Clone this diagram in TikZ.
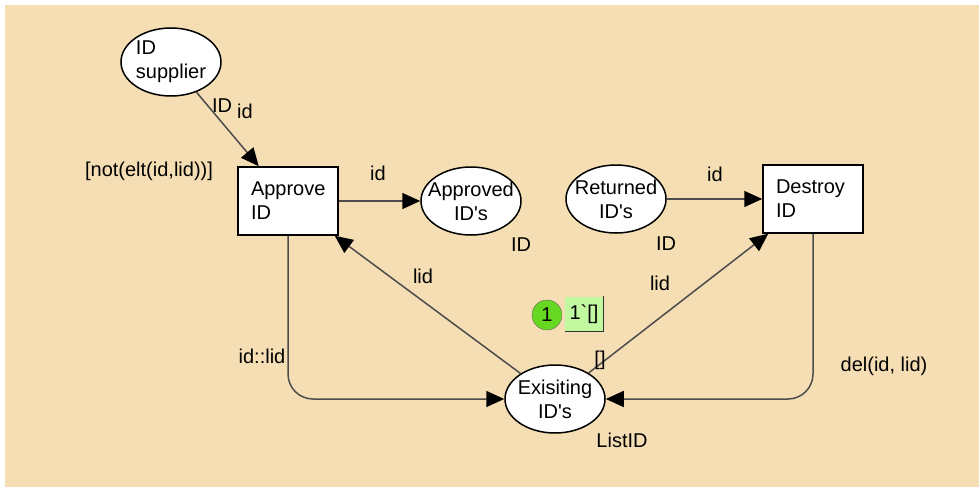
\documentclass[tikz,border=0pt]{standalone}
\usepackage{fontspec}
\setmainfont[Ligatures=TeXOff]{Liberation Sans}
\usetikzlibrary{shapes.geometric,arrows.meta}
\definecolor{canvas}{RGB}{245,222,179}
\definecolor{tokgreen}{RGB}{102,216,34}
\definecolor{tokbox}{RGB}{194,248,160}
\begin{document}
\begin{tikzpicture}
    [x=1pt,y=-1pt,font=\fontsize{20}{24}\selectfont,
     place/.style={ellipse,draw,line width=1.5pt,fill=white,minimum width=100pt,minimum height=68pt,inner xsep=-8pt,inner ysep=0pt,align=center},
     transition/.style={rectangle,draw,line width=1.5pt,fill=white,minimum width=100pt,minimum height=68pt,text width=74pt,inner xsep=13pt,align=left},
     arc/.style={draw=black!70,line width=1.5pt,-{Triangle[length=18pt,width=16pt,color=black]}},
     inscr/.style={anchor=base,inner sep=0pt}]
    \fill[white] (0,0) rectangle (979,487);
    \fill[canvas] (5,5) rectangle (979,487);
    \useasboundingbox (0,0) rectangle (979,487);
    % places and transitions
    \node[place,align=left] (supplier) at (171,62) {ID\\supplier};
    \node[transition] (approve) at (288,201) {Approve\\ID};
    \node[place] (approved) at (471,201) {Approved\\ID's};
    \node[place] (returned) at (616,199) {Returned\\ID's};
    \node[transition] (destroy) at (813,199) {Destroy\\ID};
    \node[place] (existing) at (555,399) {Exisiting\\ID's};
    % arcs
    \foreach \from/\to in {supplier/approve,approve/approved,returned/destroy,existing/approve,existing/destroy}
      \draw[arc] (\from) -- (\to);
    \draw[arc,rounded corners=25pt] (approve) |- (existing);
    \draw[arc,rounded corners=25pt] (destroy) |- (existing);
    % inscriptions
    \node[inscr] (supcol) at (222,112) {ID};
    \node[inscr] (suparc) at (245,118) {id};
    \node[inscr] (guard) at (149,176) {[not(elt(id,lid))]};
    \node[inscr] (apparc) at (378,180) {id};
    \node[inscr] (appcol) at (521,251) {ID};
    \node[inscr] (retcol) at (666,250) {ID};
    \node[inscr] (retarc) at (715,181) {id};
    \node[inscr] (lidleft) at (423,283) {lid};
    \node[inscr] (lidright) at (660,290) {lid};
    \node[inscr] (initmark) at (600,365) {[]};
    \node[inscr] (consarc) at (262,363) {id::lid};
    \node[inscr] (delarc) at (884,371) {del(id, lid)};
    \node[inscr] (excol) at (622,447) {ListID};
    % marking
    \node[circle,fill=tokgreen,draw=black!60,minimum size=30pt,inner sep=0pt] (tokcount) at (547,315) {1};
    \node[fill=tokbox,minimum width=38pt,minimum height=35pt,inner sep=0pt] (tokval) at (584,314) {1\symbol{96}[]};
    \draw[black!80,line width=1pt] (tokval.north east) -- (tokval.south east) -- (tokval.south west);
\end{tikzpicture}
\end{document}
